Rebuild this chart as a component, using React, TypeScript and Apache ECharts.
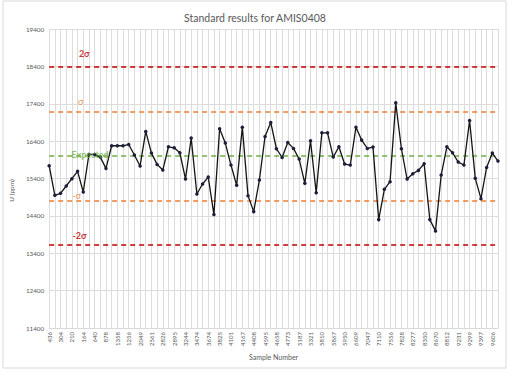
import React, { useEffect, useRef } from "react";
import * as echarts from "echarts";

// Sample numbers shown on the x axis (every other sample is labelled)
const shownSampleLabels = [
  "436", "304", "210", "164", "640", "878", "1358", "1256", "2049", "2561",
  "2826", "2895", "3244", "3474", "3674", "3825", "4101", "4167", "4408", "4595",
  "4658", "4773", "5187", "5321", "5810", "5867", "5950", "6609", "7047", "7110",
  "7556", "7828", "8277", "8350", "8670", "8812", "9231", "9299", "9397", "9606",
];

// U (ppm) results, one per sample
const uValues = [
  15742, 14950, 15003, 15199, 15395, 15591, 15039, 16045, 16045, 15973,
  15671, 16276, 16276, 16276, 16311, 16027, 15733, 16659, 16080, 15777,
  15626, 16249, 16222, 16089, 15386, 16481, 14985, 15252, 15439, 14434,
  16730, 16347, 15760, 15217, 16774, 14941, 14514, 15359, 16525, 16899,
  16196, 15964, 16365, 16205, 15920, 15270, 16409, 15021, 16623, 16623,
  15973, 16249, 15786, 15760, 16774, 16427, 16205, 16240, 14300, 15110,
  15315, 17424, 16196, 15386, 15528, 15617, 15795, 14300, 13998, 15493,
  16249, 16089, 15840, 15760, 16952, 15404, 14861, 15697, 16080, 15866,
];

// Reference levels
const refNames = ["2σ", "σ", "Expected", "-σ", "-2σ"];
const refValues = [18380, 17190, 16000, 14810, 13620];
const refColors = ["#c00000", "#ed7d31", "#70ad47", "#ed7d31", "#c00000"];
const refBold = [true, false, true, false, true];
const refLabelIndex = [6, 5, 7, 5, 5];

// Y axis ticks
const yMin = 11400;
const yMax = 19400;
const yStep = 1000;

const categories: string[] = [];
for (let i = 0; i < uValues.length; i++) {
  categories.push(i % 2 === 0 ? shownSampleLabels[i / 2] ?? "" : "");
}

const FONT = "Lato, 'Open Sans', sans-serif";
const GREY = "#595959";

export default function App() {
  const ref = useRef<HTMLDivElement>(null);

  useEffect(() => {
    if (!ref.current) return;
    const chart = echarts.init(ref.current, null, { renderer: "svg" });

    const labelOffsets: number[][] = [
      [1, -14],
      [3, -10],
      [1, -2],
      [-1, -5],
      [2, -10],
    ];

    const option: any = {
      animation: false,
      backgroundColor: "#ffffff",
      textStyle: { fontFamily: FONT },
      title: {
        text: "Standard results for AMIS0408",
        left: "center",
        top: 7,
        textStyle: { fontFamily: FONT, fontSize: 10.5, fontWeight: "normal", color: GREY },
      },
      graphic: [
        {
          type: "rect",
          shape: { x: 3, y: 1, width: 503, height: 367 },
          style: { fill: "none", stroke: "#d9d9d9", lineWidth: 1 },
          silent: true,
          z: -1,
        },
      ],
      grid: { left: 45, right: 12, top: 29, bottom: 44, containLabel: false },
      xAxis: {
        type: "category",
        data: categories,
        boundaryGap: false,
        name: "Sample Number",
        nameLocation: "middle",
        nameGap: 24,
        nameTextStyle: { fontFamily: FONT, fontSize: 7, color: GREY },
        axisLine: { show: true, lineStyle: { color: "#d9d9d9" } },
        axisTick: { show: false },
        axisLabel: {
          interval: 0,
          rotate: 90,
          fontSize: 6,
          color: GREY,
          fontFamily: FONT,
          margin: 4,
        },
        splitLine: { show: true, interval: 0, lineStyle: { color: "#dcdcdc", width: 1 } },
      },
      yAxis: {
        type: "value",
        min: yMin,
        max: yMax,
        interval: yStep,
        name: "U (ppm)",
        nameLocation: "middle",
        nameRotate: 90,
        nameGap: 33,
        nameTextStyle: { fontFamily: FONT, fontSize: 6.5, color: GREY, padding: [0, 24, 0, 0] },
        axisLine: { show: false },
        axisTick: { show: false },
        axisLabel: {
          fontSize: 6.3,
          color: GREY,
          fontFamily: FONT,
          margin: 5,
          formatter: (v: number) => String(v),
        },
        splitLine: { show: true, lineStyle: { color: "#dcdcdc", width: 1 } },
      },
      series: [
        {
          name: "U",
          type: "line",
          data: uValues,
          symbol: "circle",
          symbolSize: 3.5,
          itemStyle: { color: "#1b1f3b" },
          lineStyle: { color: "#141414", width: 1.3 },
          z: 5,
          markLine: {
            silent: true,
            symbol: "none",
            label: { show: false },
            data: refValues.map((v, i) => ({
              yAxis: v,
              lineStyle: { color: refColors[i], type: [5, 4], width: 1.5 },
            })),
          },
        },
        {
          name: "refLabels",
          type: "scatter",
          symbolSize: 0,
          silent: true,
          z: 6,
          data: refValues.map((v, i) => ({
            value: [refLabelIndex[i], v],
            label: {
              show: true,
              position: "inside",
              offset: labelOffsets[i],
              formatter: refNames[i],
              color: refColors[i],
              fontWeight: refBold[i] ? "bold" : "normal",
              fontSize: 9,
              fontFamily: FONT,
            },
          })),
        },
      ],
    };

    chart.setOption(option);
    return () => chart.dispose();
  }, []);

  return (
    <div
      ref={ref}
      style={{ position: "absolute", left: 0, top: 0, width: 510, height: 372 }}
    />
  );
}
